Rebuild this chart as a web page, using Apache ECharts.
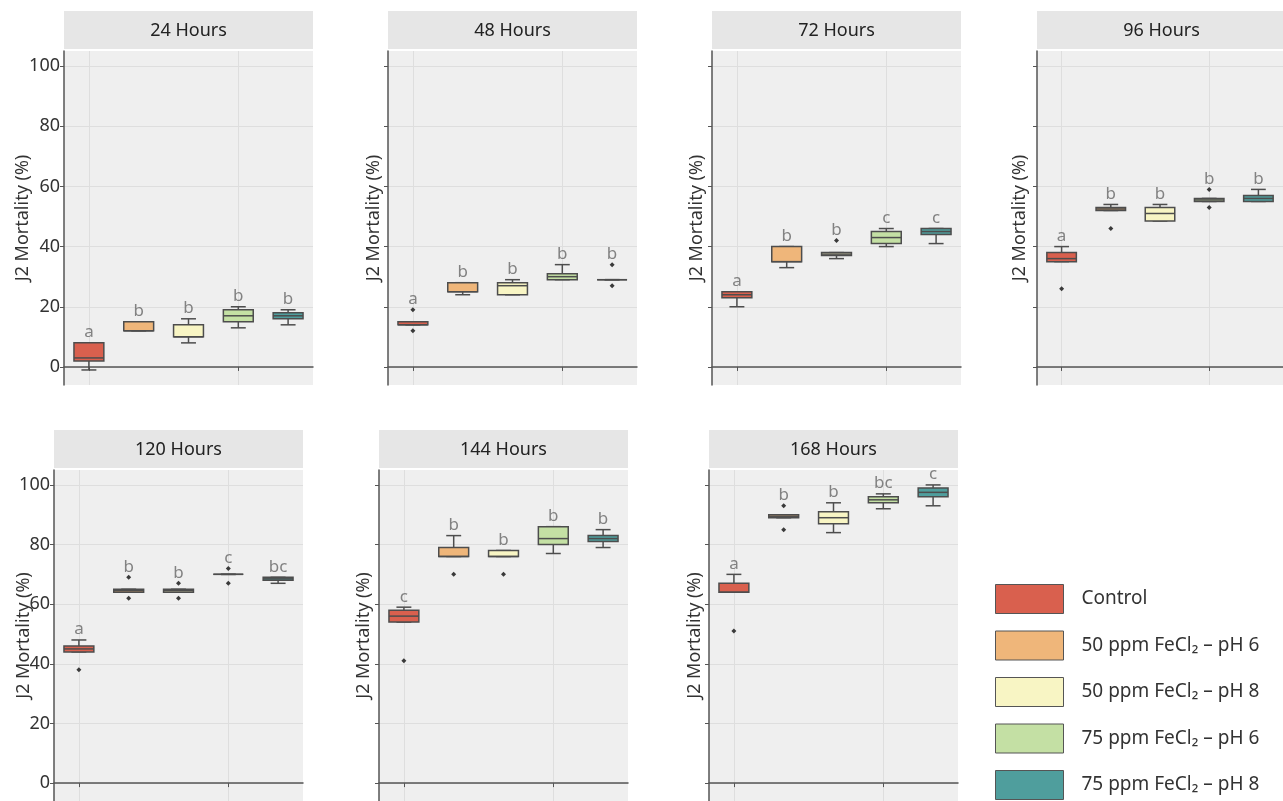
<!DOCTYPE html>
<html>
<head>
<meta charset="utf-8">
<script src="https://cdn.jsdelivr.net/npm/echarts@6/dist/echarts.min.js"></script>
<style>html,body{margin:0;padding:0;background:#fff}#c{width:1283px;height:801px}</style>
</head>
<body>
<div id="c"></div>
<script>
// ---------- DATA ----------
const categories = ['Control', '50 ppm FeCl\u2082 \u2013 pH 6', '50 ppm FeCl\u2082 \u2013 pH 8', '75 ppm FeCl\u2082 \u2013 pH 6', '75 ppm FeCl\u2082 \u2013 pH 8'];
const panelTitles = ['24 Hours', '48 Hours', '72 Hours', '96 Hours', '120 Hours', '144 Hours', '168 Hours'];
const yTicks = [0, 20, 40, 60, 80, 100];

// [min, Q1, median, Q3, max]
const boxes24  = [[-1, 2, 3, 8, 8], [12, 12, 12, 15, 15], [8, 10, 10, 14, 16], [13, 15, 17, 19, 20], [14, 16, 17, 18, 19]];
const boxes48  = [[14, 14, 14, 15, 15], [24, 25, 25, 28, 28], [24, 24, 27, 28, 29], [29, 29, 30, 31, 34], [29, 29, 29, 29, 29]];
const boxes72  = [[20, 23, 24, 25, 25], [33, 35, 35, 40, 40], [36, 37, 37.5, 38, 38], [40, 41, 43, 45, 46], [41, 44, 45, 46, 46]];
const boxes96  = [[35, 35, 36, 38, 40], [52, 52, 52.5, 53, 54], [48.5, 48.5, 51, 53, 54], [55, 55, 55.5, 56, 56], [55, 55, 56, 57, 59]];
const boxes120 = [[44, 44, 45, 46, 48], [64, 64, 64.5, 65, 65], [64, 64, 64.5, 65, 65], [70, 70, 70, 70, 70], [67, 68, 68.5, 69, 69]];
const boxes144 = [[54, 54, 56, 58, 59], [76, 76, 76, 79, 83], [76, 76, 76, 78, 78], [77, 80, 82, 86, 86], [79, 81, 82, 83, 85]];
const boxes168 = [[64, 64, 64, 67, 70], [89, 89, 89.5, 90, 90], [84, 87, 89, 91, 94], [92, 94, 95, 96, 97], [93, 96, 97.5, 99, 100]];

// outliers: [categoryIndex, value]
const outliers24  = [];
const outliers48  = [[0, 19], [0, 12], [4, 34], [4, 27]];
const outliers72  = [[2, 42]];
const outliers96  = [[0, 26], [1, 46], [3, 59], [3, 53]];
const outliers120 = [[0, 38], [1, 69], [1, 62], [2, 67], [2, 62], [3, 72], [3, 67]];
const outliers144 = [[0, 41], [1, 70], [2, 70]];
const outliers168 = [[0, 51], [1, 93], [1, 85]];

const letters24  = ['a', 'b', 'b', 'b', 'b'];
const letters48  = ['a', 'b', 'b', 'b', 'b'];
const letters72  = ['a', 'b', 'b', 'c', 'c'];
const letters96  = ['a', 'b', 'b', 'b', 'b'];
const letters120 = ['a', 'b', 'b', 'c', 'bc'];
const letters144 = ['c', 'b', 'b', 'b', 'b'];
const letters168 = ['a', 'b', 'b', 'bc', 'c'];

// ---------- STYLE / LAYOUT ----------
const colors = ['#d9604e', '#efb67a', '#f8f5c4', '#c4e0a4', '#4f9e9d'];
const EDGE = '#4d4d4d';
const FONT = '"Noto Sans", "DejaVu Sans", sans-serif';
const panels = [
  {boxes: boxes24, out: outliers24, letters: letters24},
  {boxes: boxes48, out: outliers48, letters: letters48},
  {boxes: boxes72, out: outliers72, letters: letters72},
  {boxes: boxes96, out: outliers96, letters: letters96},
  {boxes: boxes120, out: outliers120, letters: letters120},
  {boxes: boxes144, out: outliers144, letters: letters144},
  {boxes: boxes168, out: outliers168, letters: letters168}
];
const layout = [
  {left: 64, top: 51, h: 334, showLabels: true, nameGap: 32},
  {left: 388, top: 51, h: 334, showLabels: false, nameGap: 5},
  {left: 712, top: 51, h: 334, showLabels: false, nameGap: 6},
  {left: 1037, top: 51, h: 334, showLabels: false, nameGap: 8},
  {left: 54, top: 470, h: 335, showLabels: true, nameGap: 21},
  {left: 379, top: 470, h: 335, showLabels: false, nameGap: 6},
  {left: 709, top: 470, h: 335, showLabels: false, nameGap: 5}
];
const W = 249;

function renderBox(params, api) {
  const k = api.value(0);
  const band = api.size([1, 0])[0];
  const half = band * 0.3;      // box half width
  const capHalf = band * 0.15;  // whisker cap half width
  const pMin = api.coord([k, api.value(1)]);
  const pQ1 = api.coord([k, api.value(2)]);
  const pMed = api.coord([k, api.value(3)]);
  const pQ3 = api.coord([k, api.value(4)]);
  const pMax = api.coord([k, api.value(5)]);
  const x = pMin[0];
  const ls = {stroke: EDGE, lineWidth: 1.5};
  return {
    type: 'group',
    children: [
      {type: 'line', shape: {x1: x, y1: pMin[1], x2: x, y2: pQ1[1]}, style: ls},
      {type: 'line', shape: {x1: x, y1: pQ3[1], x2: x, y2: pMax[1]}, style: ls},
      {type: 'line', shape: {x1: x - capHalf, y1: pMin[1], x2: x + capHalf, y2: pMin[1]}, style: ls},
      {type: 'line', shape: {x1: x - capHalf, y1: pMax[1], x2: x + capHalf, y2: pMax[1]}, style: ls},
      {type: 'rect', shape: {x: x - half, y: pQ3[1], width: half * 2, height: pQ1[1] - pQ3[1]},
        style: {fill: colors[k], stroke: EDGE, lineWidth: 1.5}},
      {type: 'line', shape: {x1: x - half, y1: pMed[1], x2: x + half, y2: pMed[1]}, style: ls}
    ]
  };
}

const grid = [], xAxis = [], yAxis = [], series = [], graphic = [];
layout.forEach((L, i) => {
  grid.push({left: L.left, top: L.top, width: W, height: L.h, show: true, backgroundColor: '#efefef', borderWidth: 0, containLabel: false});
  xAxis.push({
    gridIndex: i, type: 'category', data: categories,
    axisLine: {show: true, lineStyle: {color: '#555', width: 1.5}},
    axisTick: {show: true, alignWithLabel: true, length: 4, lineStyle: {color: '#555'}},
    axisLabel: {show: false},
    splitLine: {show: true, alignWithLabel: true, lineStyle: {color: '#dedede', width: 1}}
  });
  yAxis.push({
    gridIndex: i, type: 'value', min: -6, max: 105,
    name: 'J2 Mortality (%)', nameLocation: 'middle', nameGap: L.nameGap, nameMoveOverlap: false,
    nameTextStyle: {fontSize: 18, color: '#333', fontFamily: FONT},
    axisLine: {show: true, lineStyle: {color: '#555', width: 1.5}},
    axisTick: {show: true, customValues: yTicks, length: 4, lineStyle: {color: '#555'}},
    axisLabel: {show: L.showLabels, customValues: yTicks, fontSize: 18, color: '#333', fontFamily: FONT, margin: 4},
    splitLine: {show: true, lineStyle: {color: '#dedede', width: 1}}
  });
  const P = panels[i];
  series.push({
    type: 'custom', xAxisIndex: i, yAxisIndex: i, renderItem: renderBox, silent: true,
    encode: {x: 0, y: [1, 2, 3, 4, 5]},
    data: P.boxes.map((b, k) => [k].concat(b))
  });
  series.push({
    type: 'scatter', xAxisIndex: i, yAxisIndex: i, symbol: 'diamond', symbolSize: 5, silent: true,
    itemStyle: {color: '#3a3a3a', opacity: 1}, data: P.out, z: 5
  });
  series.push({
    type: 'scatter', xAxisIndex: i, yAxisIndex: i, symbolSize: 0, silent: true,
    data: P.boxes.map((b, k) => {
      let top = b[4];
      P.out.forEach(o => { if (o[0] === k && o[1] > top) top = o[1]; });
      return {value: [k, top], label: {formatter: P.letters[k]}};
    }),
    label: {show: true, position: 'top', distance: 2, fontSize: 17, color: '#666', fontFamily: FONT}
  });
  graphic.push({type: 'rect', shape: {x: L.left, y: L.top - 40, width: W, height: 38}, style: {fill: '#e6e6e6'}, silent: true});
  graphic.push({type: 'text', x: L.left + W / 2, y: L.top - 20, style: {text: panelTitles[i], align: 'center', verticalAlign: 'middle', fontSize: 18, fontFamily: FONT, fill: '#222'}, silent: true});
});

// legend proxy series
categories.forEach((c, k) => {
  series.push({name: c, type: 'scatter', xAxisIndex: 0, yAxisIndex: 0, data: [], itemStyle: {color: colors[k], opacity: 1, borderColor: '#555', borderWidth: 1}});
});

const chart = echarts.init(document.getElementById('c'), null, {renderer: 'canvas'});
chart.setOption({
  animation: false,
  backgroundColor: '#ffffff',
  grid, xAxis, yAxis, series, graphic,
  legend: {
    orient: 'vertical', left: 995, top: 584, height: 217, padding: 0,
    itemWidth: 68, itemHeight: 29, itemGap: 16.5,
    icon: 'rect', selectedMode: false,
    data: categories.map(c => ({name: c, itemStyle: {opacity: 1, borderColor: '#555', borderWidth: 1}})),
    textStyle: {fontSize: 19, color: '#333', fontFamily: FONT, padding: [0, 0, 0, 13]}
  }
});
</script>
</body>
</html>
